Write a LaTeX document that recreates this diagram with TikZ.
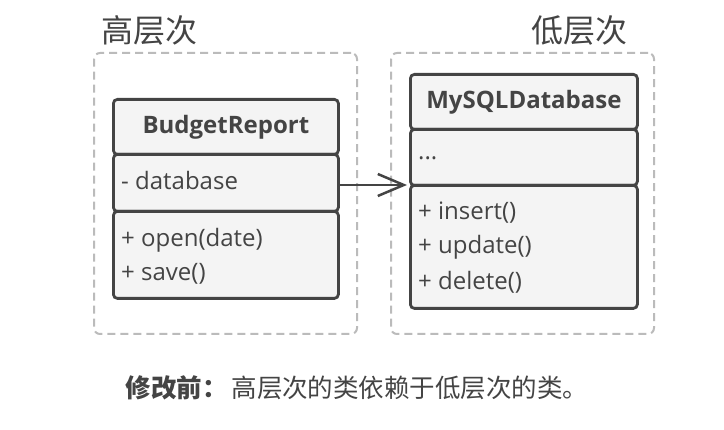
\documentclass[tikz,border=0pt]{standalone}
\usepackage{fontspec}
\setmainfont{Open Sans}
\newfontfamily\cjk{Noto Sans CJK SC}
\usetikzlibrary{arrows.meta}
\definecolor{ink}{HTML}{444444}
\definecolor{boxfill}{HTML}{F4F4F4}
\definecolor{dashgray}{HTML}{BBBBBB}
\tikzset{
  layer/.style={draw=dashgray, line width=2pt, dash pattern=on 8pt off 5pt, rounded corners=6pt},
  comp/.style={draw=ink, fill=boxfill, line width=2.8pt, rounded corners=4pt, anchor=north west, inner sep=0pt},
  member/.style={anchor=west, text=ink, font=\fontsize{24}{28}\selectfont, inner sep=0pt},
  title/.style={text=ink, font=\fontsize{24}{28}\selectfont\bfseries, inner sep=0pt},
  layerlabel/.style={text=ink, font=\cjk\fontsize{32}{36}\selectfont, inner sep=0pt},
  dep/.style={draw=ink, line width=2.5pt, -{Straight Barb[length=26pt, width=22pt, line width=2.5pt]}}
}
\begin{document}
\begin{tikzpicture}[x=1pt, y=-1pt]
\useasboundingbox (0,0) rectangle (724,430);
% layers
\node[layer, minimum width=263pt, minimum height=281pt, anchor=north west, inner sep=0pt] (high) at (93,52) {};
\node[layer, minimum width=263pt, minimum height=281pt, anchor=north west, inner sep=0pt] (low) at (390,52) {};
\node[layerlabel] (highlbl) at (149,30) {高层次};
\node[layerlabel] (lowlbl) at (579,30) {低层次};
% BudgetReport
\node[comp, minimum width=225pt, minimum height=55pt] (brhead) at (112,98) {};
\node[comp, minimum width=225pt, minimum height=57pt] (brattr) at (112,153) {};
\node[comp, minimum width=225pt, minimum height=87pt] (brmeth) at (112,210) {};
\node[title] (brtitle) at (brhead.center) {BudgetReport};
\node[member] (brdb) at (121,181) {- database};
\node[member] (bropen) at (121,240) {+ open(date)};
\node[member] (brsave) at (121,274) {+ save()};
% MySQLDatabase
\node[comp, minimum width=227pt, minimum height=55pt] (mshead) at (409,73) {};
\node[comp, minimum width=227pt, minimum height=56pt] (msattr) at (409,128) {};
\node[comp, minimum width=227pt, minimum height=123pt] (msmeth) at (409,184) {};
\node[title] (mstitle) at (mshead.center) {MySQLDatabase};
\node[member] (msdots) at (418,158) {...};
\node[member] (msins) at (418,213) {+ insert()};
\node[member] (msupd) at (418,247) {+ update()};
\node[member] (msdel) at (418,282) {+ delete()};
% dependency
\coordinate (depfrom) at (338,185);
\coordinate (depto) at (407,185);
\draw[dep] (depfrom) -- (depto);
% caption
\node[text=ink, inner sep=0pt, font=\cjk\fontsize{25.5}{28}\selectfont] (caption) at (357,388) {{\bfseries 修改前：}\hspace{4pt}高层次的类依赖于低层次的类。};
\end{tikzpicture}
\end{document}
